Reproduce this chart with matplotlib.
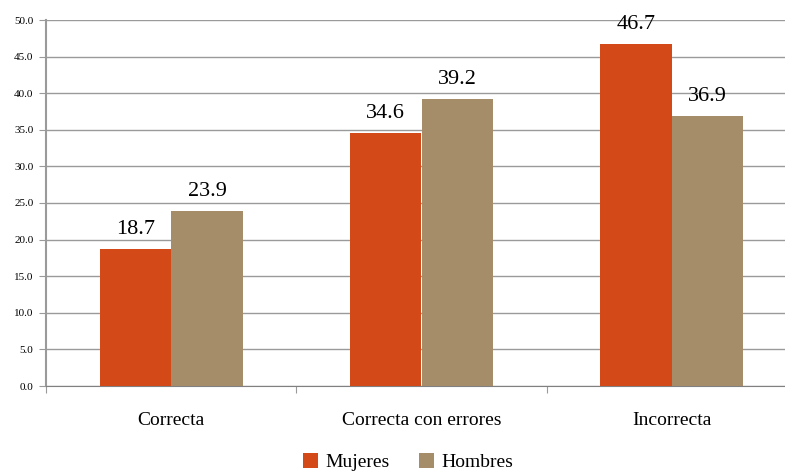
import matplotlib.pyplot as plt
import numpy as np

categories = ["Correcta", "Correcta con errores", "Incorrecta"]
mujeres = [18.7, 34.6, 46.7]
hombres = [23.9, 39.2, 36.9]
yticks = [0, 5, 10, 15, 20, 25, 30, 35, 40, 45, 50]

c_muj = "#d34a18"
c_hom = "#a58d6a"
grid_c = "#9a9a9a"

plt.rcParams["font.family"] = ["Liberation Serif", "DejaVu Serif"]

fig = plt.figure(figsize=(7.85, 4.71), dpi=100)
ax = fig.add_axes([46 / 785, 85 / 471, 751 / 785, 366 / 471])

x = np.arange(len(categories))
w = 0.286
b1 = ax.bar(x - w / 2, mujeres, w, color=c_muj, label="Mujeres", zorder=3)
b2 = ax.bar(x + w / 2, hombres, w, color=c_hom, label="Hombres", zorder=3)

for bars, vals in ((b1, mujeres), (b2, hombres)):
    for b, v in zip(bars, vals):
        ax.annotate(f"{v:.1f}", (b.get_x() + b.get_width() / 2, v),
                    xytext=(0, 7), textcoords="offset points",
                    ha="center", va="bottom", fontsize=16)

ax.set_xlim(-0.5, 2.5)
ax.set_ylim(0, 50)
ax.set_yticks(yticks)
ax.set_yticklabels([f"{t:.1f}" for t in yticks], fontsize=8)
ax.yaxis.grid(True, color=grid_c, linewidth=1, zorder=0)

# category separators as ticks, labels at centers
ax.set_xticks([-0.5, 0.5, 1.5, 2.5])
ax.set_xticklabels([])
ax.set_xticks(x, minor=True)
ax.set_xticklabels(categories, minor=True, fontsize=14)
ax.tick_params(axis="x", which="minor", length=0, pad=19)
ax.tick_params(axis="x", which="major", length=5, color=grid_c)
ax.tick_params(axis="y", length=5, color=grid_c, pad=4)

for s in ("top", "right"):
    ax.spines[s].set_visible(False)
ax.spines["left"].set_color(grid_c)
ax.spines["bottom"].set_color("#808080")
ax.spines["left"].set_linewidth(1.5)

fig.legend(loc="lower center", bbox_to_anchor=(0.52, -0.038), ncol=2, frameon=False,
           fontsize=14, handlelength=0.75, handleheight=0.75, handletextpad=0.4,
           columnspacing=1.5)

fig.savefig("out.png", dpi=100)
